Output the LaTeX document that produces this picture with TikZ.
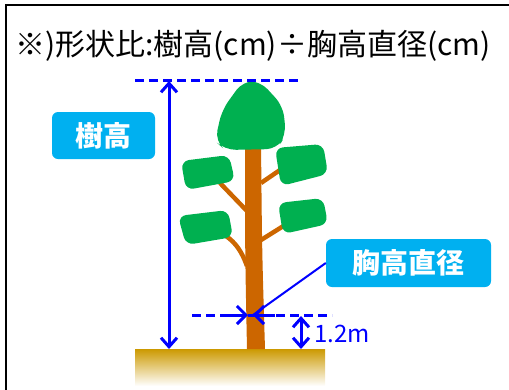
\documentclass[tikz,border=0pt]{standalone}
\usepackage{fontspec}
\setmainfont{Noto Sans CJK JP}
\usetikzlibrary{arrows.meta}
\definecolor{trunkc}{HTML}{CC6600}
\definecolor{leafc}{HTML}{00B050}
\definecolor{labelc}{HTML}{00B0F0}
\definecolor{groundc}{HTML}{CC9900}
\definecolor{dimc}{HTML}{0000FF}
\tikzset{
  labelbox/.style={fill=labelc, rounded corners=6pt, text=white, font=\fontsize{28}{28}\selectfont\bfseries, inner sep=0pt, minimum height=47pt},
  dimline/.style={dimc, line width=3pt},
  dimdash/.style={dimc, line width=3pt, dash pattern=on 9pt off 5pt},
  barb/.style={-{Straight Barb[length=9pt,width=18pt,line width=3pt]}},
  dbarb/.style={{Straight Barb[length=9pt,width=16pt,line width=3pt]}-{Straight Barb[length=9pt,width=16pt,line width=3pt]}},
  branch/.style={trunkc, line width=4.5pt},
  leaf/.style={fill=leafc, rounded corners=8pt},
}
\begin{document}
\begin{tikzpicture}[x=1pt,y=-1pt]
\useasboundingbox (0,0) rectangle (509,389);
% frame
\draw[line width=2.2pt] (6,420) -- (6,5) -- (520,5);
% title
\node[anchor=west, inner sep=0pt, font=\fontsize{30}{30}\selectfont] (title) at (15,46) {※)形状比:樹高(cm)÷胸高直径(cm)};
% ground
\shade[top color=groundc, bottom color=white] (135,349) rectangle (325,386);
\coordinate (g1) at (169,349);
\coordinate (g2) at (301,349);
% trunk
\fill[trunkc] (245,140) -- (261,140) .. controls (262,250) .. (265,349) -- (247,349) .. controls (245,250) .. cycle;
% branches
\draw[branch] (220,183) -- (247,211);
\draw[branch] (261,183) -- (280,170);
\draw[branch] (261,240) -- (285,225);
\draw[branch] (226,236) .. controls (236,243) and (242,252) .. (247,266);
% crown
\fill[leafc, rounded corners=11pt] (243,81) -- (260,81) -- (283,106) -- (286,135) -- (277,149) -- (225,150) -- (215,141) -- (222,110) -- cycle;
% leaves
\fill[leaf] (181,161) -- (229,155) -- (235,181) -- (186,190) -- cycle;
\fill[leaf] (275,148) -- (323,144) -- (328,174) -- (281,186) -- cycle;
\fill[leaf] (178,216) -- (228,210) -- (233,237) -- (186,245) -- cycle;
\fill[leaf] (278,203) -- (323,198) -- (328,224) -- (283,234) -- cycle;
% tree height
\coordinate (t1) at (135,80);
\coordinate (t2) at (302,80);
\draw[dimdash] (t1) -- (t2);
\coordinate (ta) at (169,81);
\draw[dimline, dbarb] (ta) -- (g1);
\node[labelbox, minimum width=103pt] (hlabel) at (103.5,135.5) {樹高};
% DBH
\coordinate (d1) at (192,315);
\coordinate (d2) at (332,315);
\coordinate (dl) at (248,315);
\coordinate (dr) at (253,315);
\draw[dimdash] (d1) -- (d2);
\draw[dimline, barb] (226,315) -- (dl);
\draw[dimline, barb] (275,315) -- (dr);
\node[labelbox, minimum width=165pt, minimum height=48pt] (dlabel) at (408.5,263) {胸高直径};
\draw[dimc, line width=2pt] (dlabel.west) -- (dr);
% 1.2 m
\coordinate (m1) at (301,316);
\draw[dimline, dbarb] (m1) -- (g2);
\node[anchor=west, inner sep=0pt, text=dimc, font=\fontsize{24}{24}\selectfont] (mlabel) at (314,334) {1.2m};
\end{tikzpicture}
\end{document}
